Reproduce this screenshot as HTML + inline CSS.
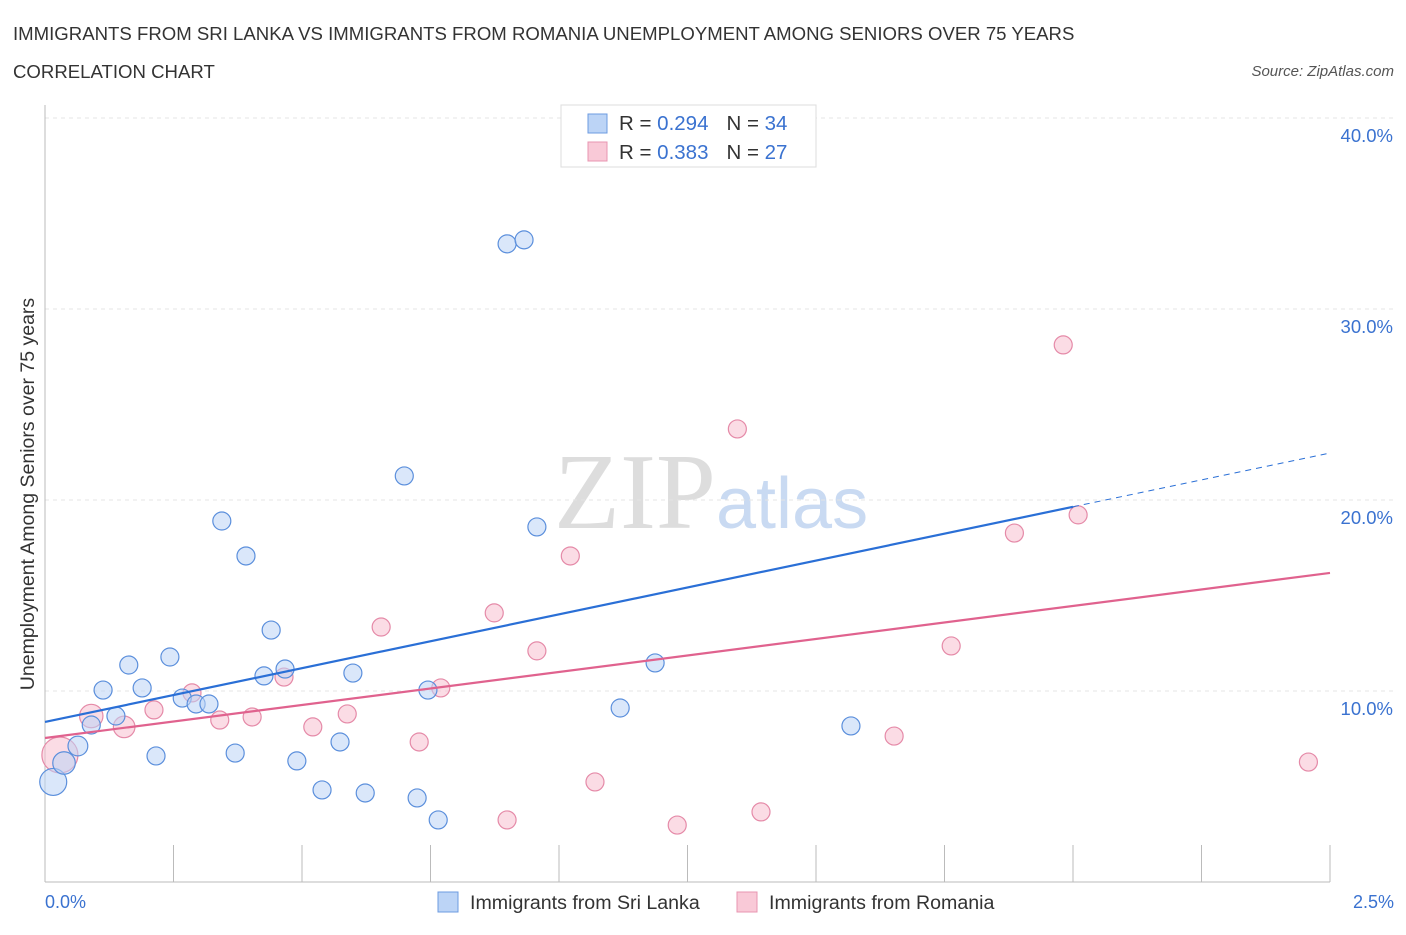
<!DOCTYPE html>
<html><head><meta charset="utf-8"><style>
body{margin:0;background:#fff;font-family:"Liberation Sans",sans-serif}
</style></head><body>
<svg width="1406" height="930" viewBox="0 0 1406 930" id="chart" style="font-family:'Liberation Sans',sans-serif">
<text x="13" y="40" font-size="18.6" fill="#333">IMMIGRANTS FROM SRI LANKA VS IMMIGRANTS FROM ROMANIA UNEMPLOYMENT AMONG SENIORS OVER 75 YEARS</text>
<text x="13" y="78" font-size="18.6" fill="#333">CORRELATION CHART</text>
<text x="1394" y="76" font-size="15" fill="#555" font-style="italic" text-anchor="end">Source: ZipAtlas.com</text>
<text x="716" y="528" font-size="108" fill="#ddd" text-anchor="end" font-family="Liberation Serif">ZIP</text>
<text x="716" y="528" font-size="72" fill="#c9daf2">atlas</text>
<g id="grid"></g>
<line x1="45" y1="105" x2="45" y2="882" stroke="#bbb"/>
<line x1="45" y1="882" x2="1330" y2="882" stroke="#bbb"/>
<g id="ticks"></g>
<g id="marks"></g>
<text transform="translate(34,494) rotate(-90)" font-size="19.5" fill="#333" text-anchor="middle">Unemployment Among Seniors over 75 years</text>
<text x="45" y="908" font-size="18" fill="#3a72d0">0.0%</text>
<text x="1394" y="908" font-size="18" fill="#3a72d0" text-anchor="end">2.5%</text>
<g>
<rect x="561" y="105" width="255" height="62" fill="#fff" stroke="#ddd"/>
<rect x="588" y="114" width="19" height="19" fill="#bcd4f6" stroke="#6c9be0"/>
<rect x="588" y="142" width="19" height="19" fill="#f9c9d7" stroke="#e895b0"/>
<text x="619" y="130" font-size="20.5" fill="#333">R = <tspan fill="#3a72d0">0.294</tspan><tspan dx="18">N = </tspan><tspan fill="#3a72d0">34</tspan></text>
<text x="619" y="159" font-size="20.5" fill="#333">R = <tspan fill="#3a72d0">0.383</tspan><tspan dx="18">N = </tspan><tspan fill="#3a72d0">27</tspan></text>
</g>
<g>
<rect x="438" y="892" width="20" height="20" fill="#bcd4f6" stroke="#6c9be0"/>
<text x="470" y="909" font-size="19.6" fill="#333">Immigrants from Sri Lanka</text>
<rect x="737" y="892" width="20" height="20" fill="#f9c9d7" stroke="#e895b0"/>
<text x="769" y="909" font-size="19.6" fill="#333">Immigrants from Romania</text>
</g>
</svg>
<script>
const yTicks=[10,20,30,40];
const yTickLabels=["10.0%","20.0%","30.0%","40.0%"];
const xTicks=[0,0.25,0.5,0.75,1,1.25,1.5,1.75,2,2.25,2.5];
const blueX=[0.016,0.037,0.064,0.090,0.138,0.113,0.163,0.189,0.216,0.243,0.267,0.294,0.319,0.344,0.370,0.391,0.426,0.440,0.467,0.490,0.539,0.574,0.599,0.623,0.699,0.724,0.745,0.765,0.899,0.932,0.957,1.119,1.187,1.568];
const blueY=[5.24,6.23,7.12,8.22,8.69,10.05,11.36,10.16,6.60,11.78,9.63,9.32,9.32,18.90,6.75,17.07,10.79,13.19,11.15,6.34,4.82,7.33,10.94,4.66,21.26,4.40,10.05,3.25,33.41,33.62,18.59,9.11,11.47,8.17];
const blueW=[1.5,1.25,1.1,1,1,1,1,1,1,1,1,1,1,1,1,1,1,1,1,1,1,1,1,1,1,1,1,1,1,1,1,1,1,1];
const pinkX=[0.029,0.090,0.154,0.212,0.286,0.340,0.403,0.465,0.521,0.588,0.654,0.728,0.770,0.874,0.899,0.957,1.022,1.070,1.230,1.347,1.393,1.652,1.763,1.886,1.981,2.010,2.458];
const pinkY=[6.65,8.69,8.12,9.01,9.90,8.48,8.64,10.73,8.12,8.80,13.35,7.33,10.16,14.09,3.25,12.10,17.07,5.24,2.98,23.72,3.67,7.64,12.36,18.27,28.12,19.22,6.28];
const pinkW=[2,1.3,1.2,1,1,1,1,1,1,1,1,1,1,1,1,1,1,1,1,1,1,1,1,1,1,1,1];
const blueTrend=[8.38,22.46];
const pinkTrend=[7.54,16.18];
const NS="http://www.w3.org/2000/svg";
const sx=v=>45+v/2.5*1285, sy=v=>882-v*19.1;
function mk(p,t,a){const e=document.createElementNS(NS,t);for(const k in a)e.setAttribute(k,a[k]);p.appendChild(e);return e;}
const grid=document.getElementById('grid'),ticks=document.getElementById('ticks'),marks=document.getElementById('marks');
yTicks.forEach((v,i)=>{
 const l=mk(grid,'line',{x1:45,x2:1394,y1:sy(v),y2:sy(v),stroke:'#e4e4e4','stroke-dasharray':'4,4'});
 
 
 const t=mk(grid,'text',{x:1393,y:sy(v)+24,'font-size':18.5,fill:'#3a72d0','text-anchor':'end'});
 t.textContent=yTickLabels[i];
 
 
});
xTicks.forEach(v=>{
 const l=mk(ticks,'line',{x1:sx(v),x2:sx(v),y1:845,y2:882,stroke:'#bbb'});
 
 
});
function dots(X,Y,W,fill,stroke,name){
 X.forEach((x,i)=>{
  const c=mk(marks,'circle',{cx:sx(x),cy:sy(Y[i]),r:9*W[i],fill:fill,'fill-opacity':0.55,stroke:stroke,'stroke-width':1.2});
  
  
 });
}
dots(pinkX,pinkY,pinkW,'#f7bfd0','#e58aa8','romania-point');
dots(blueX,blueY,blueW,'#bcd4f6','#5b8fdc','sri-lanka-point');
const bm=blueTrend[0]+(blueTrend[1]-blueTrend[0])*0.8;
let e=mk(marks,'line',{x1:sx(0),y1:sy(blueTrend[0]),x2:sx(2),y2:sy(bm),stroke:'#2a6fd6','stroke-width':2.2});


e=mk(marks,'line',{x1:sx(2),y1:sy(bm),x2:sx(2.5),y2:sy(blueTrend[1]),stroke:'#2a6fd6','stroke-width':1,'stroke-dasharray':'6,5'});


e=mk(marks,'line',{x1:sx(0),y1:sy(pinkTrend[0]),x2:sx(2.5),y2:sy(pinkTrend[1]),stroke:'#e0628e','stroke-width':2.2});


</script>
</body></html>
